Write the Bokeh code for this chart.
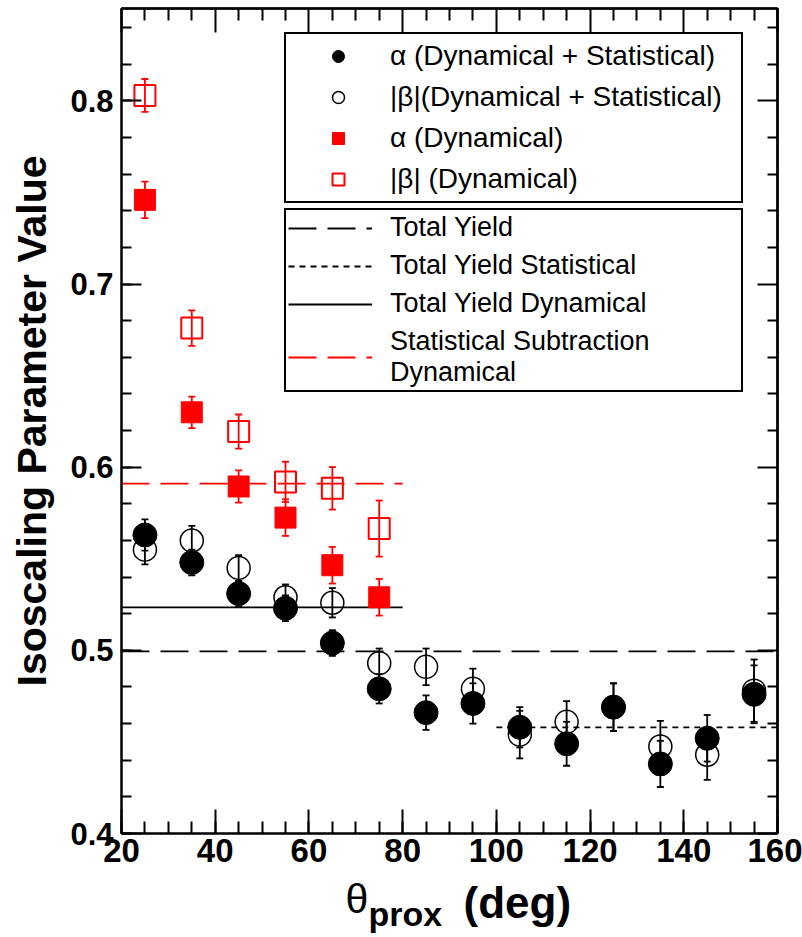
from bokeh.plotting import figure
from bokeh.layouts import column
from bokeh.models import (Range1d, LinearAxis, SingleIntervalTicker, FixedTicker, Whisker, TeeHead,
                          ColumnDataSource, Legend, LegendItem, Label)
from bokeh.embed import file_html
from bokeh.resources import INLINE

# ---------------- data ----------------
theta = [25, 35, 45, 55, 65, 75, 85, 95, 105, 115, 125, 135, 145, 155]
alpha_total = [0.563, 0.548, 0.531, 0.523, 0.504, 0.479, 0.466, 0.471, 0.458, 0.449, 0.469, 0.438, 0.452, 0.476]
alpha_total_err = [0.0085, 0.007, 0.007, 0.007, 0.007, 0.008, 0.0094, 0.011, 0.011, 0.012, 0.013, 0.0126, 0.0127, 0.0158]
beta_total = [0.555, 0.560, 0.545, 0.529, 0.526, 0.493, 0.491, 0.479, 0.454, 0.461, 0.469, 0.4475, 0.443, 0.478]
beta_total_err = [0.008, 0.008, 0.007, 0.007, 0.008, 0.008, 0.010, 0.011, 0.013, 0.0113, 0.013, 0.014, 0.0137, 0.017]

theta_dyn = [25, 35, 45, 55, 65, 75]
alpha_dyn = [0.746, 0.630, 0.5895, 0.5725, 0.5465, 0.529]
alpha_dyn_err = [0.010, 0.0086, 0.0088, 0.010, 0.010, 0.010]
beta_dyn = [0.803, 0.676, 0.6195, 0.592, 0.5885, 0.5665]
beta_dyn_err = [0.009, 0.0097, 0.0093, 0.011, 0.0116, 0.0153]

# reference lines: name, x start, x end, value
line_names = ["Total Yield", "Total Yield Statistical", "Total Yield Dynamical",
              "Statistical Subtraction\nDynamical"]
line_x0 = [20, 100, 20, 20]
line_x1 = [160, 160, 80, 80]
line_y = [0.4995, 0.458, 0.5235, 0.591]

legend_labels = ["α (Dynamical + Statistical)", "|β|(Dynamical + Statistical)",
                 "α (Dynamical)", "|β| (Dynamical)"]

x_title_parts = ["θ", "prox", "(deg)"]
y_title = "Isoscaling Parameter Value"

# tick positions for the unlabelled mirror axes (top / right)
x_major_ticks = [20, 40, 60, 80, 100, 120, 140, 160]
x_minor_ticks = [v for v in range(20, 161, 5) if v % 20 != 0]
y_major_ticks = [0.4, 0.5, 0.6, 0.7, 0.8]
y_minor_ticks = [round(0.4 + 0.02 * k, 2) for k in range(1, 23) if k % 5 != 0]

# ---------------- main figure ----------------
p = figure(width=802, height=876, output_backend="svg", toolbar_location=None,
           x_range=Range1d(20, 160), y_range=Range1d(0.4, 0.8505),
           min_border_left=121, min_border_right=25, min_border_top=8, min_border_bottom=43)
p.background_fill_color = "white"
p.border_fill_color = "white"
p.outline_line_color = "black"
p.outline_line_width = 2
p.xgrid.visible = False
p.ygrid.visible = False

def style_axis(ax, major_len, minor_len):
    ax.axis_line_color = "black"
    ax.axis_line_width = 2
    ax.major_tick_line_color = "black"
    ax.major_tick_line_width = 2
    ax.minor_tick_line_color = "black"
    ax.minor_tick_line_width = 2
    ax.major_tick_in = major_len
    ax.major_tick_out = 0
    ax.minor_tick_in = minor_len
    ax.minor_tick_out = 0

xa = p.xaxis[0]
xa.ticker = SingleIntervalTicker(interval=20, num_minor_ticks=4)
style_axis(xa, 24, 12)
xa.major_label_text_font = "Liberation Sans"
xa.major_label_text_font_style = "bold"
xa.major_label_text_font_size = "33px"
xa.major_label_text_color = "black"
xa.major_label_standoff = 5

ya = p.yaxis[0]
ya.ticker = SingleIntervalTicker(interval=0.1, num_minor_ticks=5)
style_axis(ya, 20, 10)
ya.major_label_text_font = "Liberation Sans"
ya.major_label_text_font_style = "bold"
ya.major_label_text_font_size = "31px"
ya.major_label_text_color = "black"
ya.major_label_standoff = 8
ya.axis_label = y_title
ya.axis_label_text_font = "Liberation Sans"
ya.axis_label_text_font_style = "bold"
ya.axis_label_text_font_size = "41px"
ya.axis_label_text_color = "black"
ya.axis_label_standoff = 12

# mirror ticks: only "minor" ticks are used so that no labels are produced
def mirror_axis(place, ticks, length):
    ax = LinearAxis(ticker=FixedTicker(ticks=[], minor_ticks=ticks))
    style_axis(ax, 0, length)
    ax.major_label_standoff = 0
    ax.axis_label_standoff = 0
    p.add_layout(ax, place)

mirror_axis("above", x_major_ticks, 24)
mirror_axis("above", x_minor_ticks, 12)
mirror_axis("right", y_major_ticks, 20)
mirror_axis("right", y_minor_ticks, 10)

# ---------------- reference lines ----------------
dashes = ["28 11", "6 5", "solid", "28 11"]
colors = ["black", "black", "black", "red"]
line_renderers = []
for i in range(len(line_names)):
    r = p.line([line_x0[i], line_x1[i]], [line_y[i], line_y[i]], line_color=colors[i],
               line_width=1.8, line_dash=dashes[i])
    line_renderers.append(r)

# ---------------- error bars ----------------
def add_err(x, y, e, color):
    src = ColumnDataSource(dict(x=x, lo=[a - b for a, b in zip(y, e)], hi=[a + b for a, b in zip(y, e)]))
    w = Whisker(base="x", lower="lo", upper="hi", source=src, dimension="height",
                line_color=color, line_width=1.8,
                upper_head=TeeHead(size=7, line_color=color, line_width=1.8),
                lower_head=TeeHead(size=7, line_color=color, line_width=1.8))
    p.add_layout(w)

add_err(theta, alpha_total, alpha_total_err, "black")
add_err(theta, beta_total, beta_total_err, "black")
add_err(theta_dyn, alpha_dyn, alpha_dyn_err, "red")
add_err(theta_dyn, beta_dyn, beta_dyn_err, "red")

# ---------------- markers ----------------
r_at = p.scatter(theta, alpha_total, marker="circle", size=24, fill_color="black", line_color="black")
r_bt = p.scatter(theta, beta_total, marker="circle", size=23, fill_color=None, line_color="black", line_width=1.5)
r_ad = p.scatter(theta_dyn, alpha_dyn, marker="square", size=21, fill_color="red", line_color="red")
r_bd = p.scatter(theta_dyn, beta_dyn, marker="square", size=21, fill_color=None, line_color="red", line_width=2)

# ---------------- legends ----------------
leg1 = Legend(items=[LegendItem(label=legend_labels[0], renderers=[r_at]),
                     LegendItem(label=legend_labels[1], renderers=[r_bt]),
                     LegendItem(label=legend_labels[2], renderers=[r_ad]),
                     LegendItem(label=legend_labels[3], renderers=[r_bd])],
              location=(163, 630), margin=0, padding=6, spacing=9,
              glyph_width=92, glyph_height=30, label_height=30, label_width=345, label_standoff=6,
              border_line_color="black", border_line_width=2, border_line_alpha=1.0,
              background_fill_color="white", background_fill_alpha=1,
              label_text_font="Liberation Sans", label_text_font_size="28px", label_text_color="black")
p.add_layout(leg1)

leg2 = Legend(items=[LegendItem(label=line_names[i], renderers=[line_renderers[i]]) for i in range(4)],
              location=(163, 441), margin=0, padding=2, spacing=7,
              glyph_width=84, glyph_height=30, label_height=30, label_width=349, label_standoff=18,
              border_line_color="black", border_line_width=2, border_line_alpha=1.0,
              background_fill_color="white", background_fill_alpha=1,
              label_text_font="Liberation Sans", label_text_font_size="27px", label_text_color="black")
p.add_layout(leg2)

# ---------------- x axis title strip (shares the x scale) ----------------
p2 = figure(width=802, height=61, output_backend="svg", toolbar_location=None,
            x_range=p.x_range, y_range=Range1d(0, 61), x_axis_type=None, y_axis_type=None,
            min_border_left=121, min_border_right=25, min_border_top=0, min_border_bottom=0)
p2.outline_line_color = None
p2.background_fill_color = "white"
p2.border_fill_color = "white"
p2.add_layout(Label(x=67.8, y=39, text=x_title_parts[0], text_font="Liberation Sans",
                    text_font_size="41px", text_color="black", text_baseline="alphabetic"))
p2.add_layout(Label(x=72.7, y=24, text=x_title_parts[1], text_font="Liberation Sans",
                    text_font_style="bold", text_font_size="34px", text_color="black",
                    text_baseline="alphabetic"))
p2.add_layout(Label(x=93.0, y=35, text=x_title_parts[2], text_font="Liberation Sans",
                    text_font_style="bold", text_font_size="44px", text_color="black",
                    text_baseline="alphabetic"))

layout = column(p, p2, spacing=0)
open("out.html", "w").write(file_html(layout, INLINE))
